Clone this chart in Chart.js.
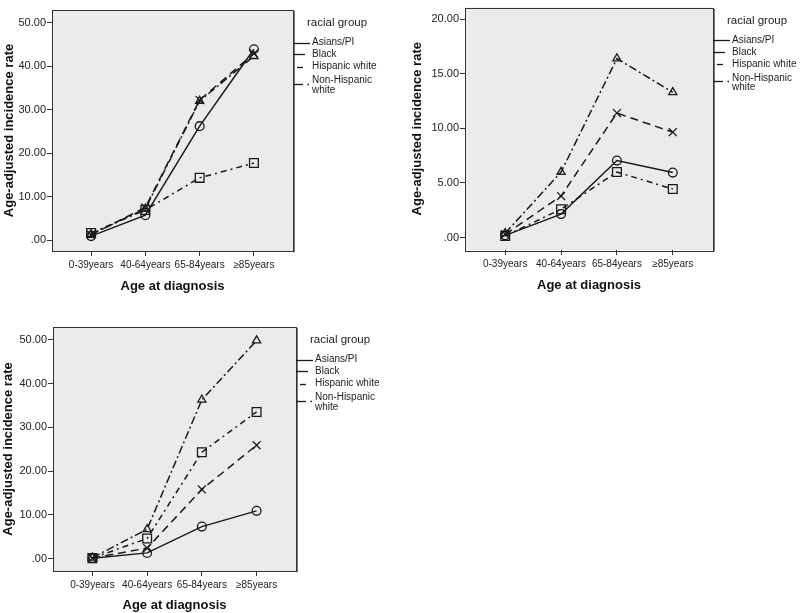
<!DOCTYPE html>
<html><head><meta charset="utf-8">
<script src="https://cdn.jsdelivr.net/npm/chart.js@4.4.1/dist/chart.umd.min.js"></script>
<style>
html,body{margin:0;padding:0;background:#fff;width:800px;height:613px;overflow:hidden}
canvas{position:absolute}
</style></head><body>
<canvas id="cA" width="400" height="300" style="left:0;top:0"></canvas>
<canvas id="cB" width="400" height="300" style="left:400px;top:0"></canvas>
<canvas id="cC" width="400" height="313" style="left:0;top:300px"></canvas>
<script>
// ---- data ----
const categories = ['0-39years', '40-64years', '65-84years', '\u226585years'];
const groups = ['Asians/PI', 'Black', 'Hispanic white', 'Non-Hispanic white'];
const legendTitle = 'racial group';
const xTitle = 'Age at diagnosis';
const yTitle = 'Age-adjusted incidence rate';

// top-left panel
const panelA_asians      = [0.9, 5.7, 26.2, 43.9];
const panelA_black       = [1.2, 7.5, 32.2, 42.9];
const panelA_hispanic    = [1.3, 7.2, 32.0, 42.3];
const panelA_nonHispanic = [1.6, 6.9, 14.3, 17.7];
const panelA_yTicks = [0, 10, 20, 30, 40, 50];

// top-right panel
const panelB_asians      = [0.2, 2.15, 7.05, 5.95];
const panelB_black       = [0.3, 3.8, 11.4, 9.65];
const panelB_hispanic    = [0.4, 6.0, 16.4, 13.3];
const panelB_nonHispanic = [0.15, 2.6, 6.0, 4.45];
const panelB_yTicks = [0, 5, 10, 15, 20];

// bottom-left panel
const panelC_asians      = [0.1, 1.3, 7.3, 10.9];
const panelC_black       = [0.1, 2.4, 15.8, 25.9];
const panelC_hispanic    = [0.2, 6.7, 36.3, 49.8];
const panelC_nonHispanic = [0.1, 4.6, 24.3, 33.5];
const panelC_yTicks = [0, 10, 20, 30, 40, 50];

// ---- styling ----
const FONT = "'Liberation Sans', Arial, sans-serif";
const INK = '#1a1a1a';
const seriesStyle = [
  { pointStyle: 'circle',   radius: 4.4, dash: [] },
  { pointStyle: 'crossRot', radius: 5.6, dash: [8, 5] },
  { pointStyle: 'triangle', radius: 4.7, dash: [8, 3, 2, 3] },
  { pointStyle: 'rect',     radius: 6.2, dash: [6, 4, 2, 4] }
];

function toPoints(arr) { return arr.map((v, i) => ({ x: i, y: v })); }
function fmt(v) { return v === 0 ? '.00' : v.toFixed(2); }

const panelDecor = {
  id: 'panelDecor',
  beforeDraw(chart) {
    const a = chart.chartArea, ctx = chart.ctx;
    ctx.save();
    ctx.fillStyle = '#ebebeb';
    ctx.fillRect(a.left, a.top, a.right - a.left, a.bottom - a.top);
    ctx.restore();
  },
  afterDraw(chart) {
    const a = chart.chartArea, ctx = chart.ctx;
    ctx.save();
    ctx.strokeStyle = '#333';
    ctx.lineWidth = 1;
    ctx.strokeRect(Math.round(a.left) + 0.5, Math.round(a.top) + 0.5,
                   Math.round(a.right - a.left), Math.round(a.bottom - a.top));
    ctx.strokeStyle = '#777';
    ctx.beginPath();
    ctx.moveTo(Math.round(a.right) + 1.5, Math.round(a.top) + 1);
    ctx.lineTo(Math.round(a.right) + 1.5, Math.round(a.bottom) + 1.5);
    ctx.stroke();
    // legend
    const R = Math.round(a.right), T = a.top;
    ctx.fillStyle = '#222';
    ctx.textBaseline = 'middle';
    ctx.textAlign = 'left';
    ctx.font = '11.5px ' + FONT;
    ctx.fillText(legendTitle, R + 14, T + 13);
    ctx.font = '10px ' + FONT;
    ctx.strokeStyle = INK;
    ctx.lineWidth = 1.3;
    const rows = [T + 32.5, T + 44.3, T + 56.5];
    const segs = [[[0, 17]], [[0, 12]], [[4, 10]]];
    for (let i = 0; i < 3; i++) {
      const y = Math.round(rows[i]) + 0.5;
      segs[i].forEach(s => { ctx.beginPath(); ctx.moveTo(R + s[0], y); ctx.lineTo(R + s[1], y); ctx.stroke(); });
      ctx.fillText(groups[i], R + 19, rows[i]);
    }
    const yNH = Math.round(T + 73.5) + 0.5;
    ctx.beginPath(); ctx.moveTo(R, yNH); ctx.lineTo(R + 10, yNH); ctx.stroke();
    ctx.beginPath(); ctx.moveTo(R + 14.5, yNH); ctx.lineTo(R + 16, yNH); ctx.stroke();
    ctx.fillText('Non-Hispanic', R + 19, T + 70.5);
    ctx.fillText('white', R + 19, T + 80);
    ctx.restore();
  }
};

function makePanel(id, series, yTicks, geo) {
  const datasets = series.map((arr, i) => ({
    label: groups[i],
    data: toPoints(arr),
    borderColor: INK,
    borderWidth: 1.5,
    borderDash: seriesStyle[i].dash,
    pointStyle: seriesStyle[i].pointStyle,
    pointRadius: seriesStyle[i].radius,
    pointHoverRadius: seriesStyle[i].radius,
    pointBorderColor: INK,
    pointBackgroundColor: 'rgba(0,0,0,0)',
    pointBorderWidth: 1.3,
    tension: 0,
    fill: false
  }));
  const canvas = document.getElementById(id);
  return new Chart(canvas, {
    type: 'line',
    data: { datasets },
    plugins: [panelDecor],
    options: {
      responsive: false,
      animation: false,
      devicePixelRatio: 1,
      layout: { padding: { left: 0, top: geo.top, right: canvas.width - geo.right, bottom: 0 } },
      plugins: { legend: { display: false }, tooltip: { enabled: false } },
      scales: {
        x: {
          type: 'linear',
          min: -0.72, max: 3.72,
          afterBuildTicks: s => { s.ticks = categories.map((c, i) => ({ value: i })); },
          afterFit: s => { s.height = canvas.height - geo.bottom; s.paddingLeft = 0; s.paddingRight = 0; },
          ticks: {
            callback: v => categories[v],
            font: { family: FONT, size: 10 }, color: '#222', padding: 3,
            maxRotation: 0, autoSkip: false
          },
          grid: { drawOnChartArea: false, drawTicks: true, tickLength: 5, color: '#333' },
          border: { display: false },
          title: { display: true, text: xTitle, font: { family: FONT, size: 13, weight: 'bold' },
                   color: '#111', padding: { top: 0, bottom: geo.xTitlePad } }
        },
        y: {
          type: 'linear',
          min: geo.ymin, max: geo.ymax,
          afterBuildTicks: s => { s.ticks = yTicks.map(v => ({ value: v })); },
          afterFit: s => { s.width = geo.left; s.paddingTop = 0; s.paddingBottom = 0; },
          ticks: {
            callback: v => fmt(v),
            font: { family: FONT, size: 11 }, color: '#222', padding: 1
          },
          grid: { drawOnChartArea: false, drawTicks: true, tickLength: 5, color: '#333' },
          border: { display: false },
          title: { display: true, text: yTitle, font: { family: FONT, size: 13, weight: 'bold' },
                   color: '#111', padding: { top: geo.yTitlePad, bottom: 0 } }
        }
      }
    }
  });
}

makePanel('cA', [panelA_asians, panelA_black, panelA_hispanic, panelA_nonHispanic], panelA_yTicks,
  { left: 52, right: 293, top: 10, bottom: 251, ymin: -2.53, ymax: 52.92, xTitlePad: 6, yTitlePad: 2 });
makePanel('cB', [panelB_asians, panelB_black, panelB_hispanic, panelB_nonHispanic], panelB_yTicks,
  { left: 65, right: 313, top: 2, bottom: 250, ymin: -1.14, ymax: 21.07, xTitlePad: 7, yTitlePad: 10 });
makePanel('cC', [panelC_asians, panelC_black, panelC_hispanic, panelC_nonHispanic], panelC_yTicks,
  { left: 53, right: 296, top: 27, bottom: 271, ymin: -2.84, ymax: 52.91, xTitlePad: 0, yTitlePad: 1 });
</script>
</body></html>
